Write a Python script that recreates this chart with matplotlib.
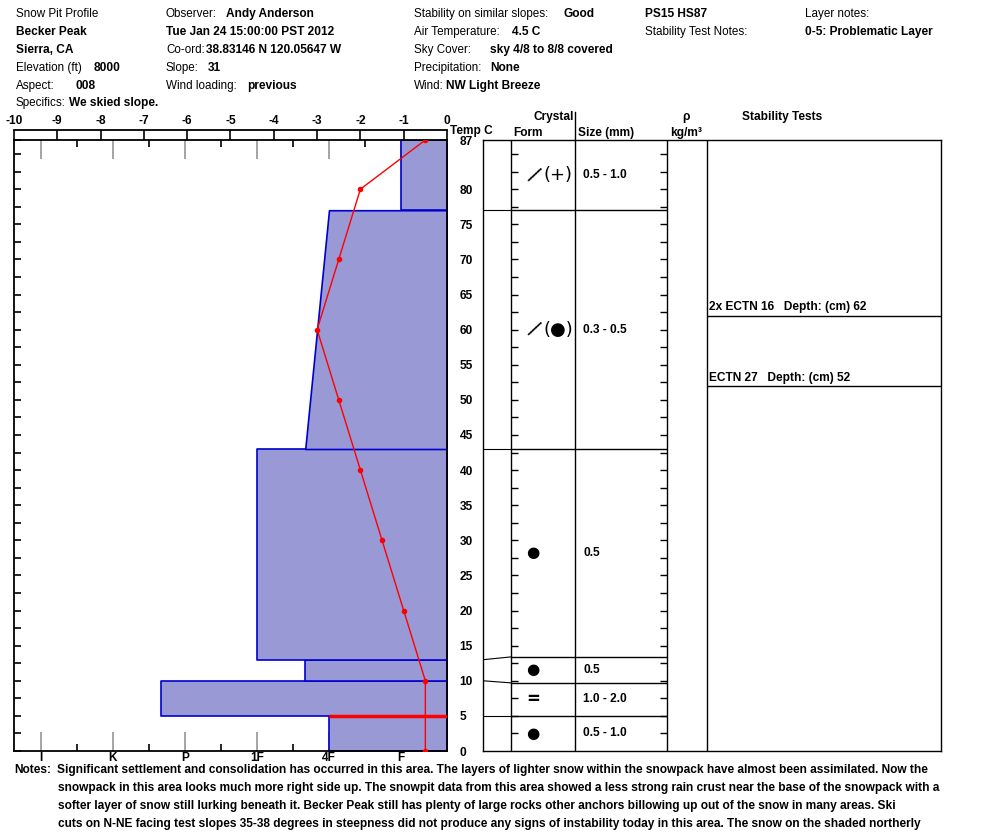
import matplotlib
matplotlib.use("Agg")
import matplotlib.pyplot as plt
import numpy as np

plt.rcParams['font.family'] = ['Liberation Sans', 'DejaVu Sans']

# ---- data ----
layer_bottom = [0, 5, 10, 13, 43, 77]
layer_top = [5, 10, 13, 43, 77, 87]
hard_bottom = [2.0, 4.33, 2.33, 3.0, 2.33, 1.0]   # F=1, 4F=2, 1F=3, P=4, K=5, I=6
hard_top = [2.0, 4.33, 2.33, 3.0, 2.0, 1.0]
hard_labels = ["F", "4F", "1F", "P", "K", "I"]
hard_vals = [1, 2, 3, 4, 5, 6]
problem_layer = 0   # 0-5 cm

temp_depth = [87, 80, 70, 60, 50, 40, 30, 20, 10, 0]
temp_vals = [-0.5, -2.0, -2.5, -3.0, -2.5, -2.0, -1.5, -1.0, -0.5, -0.5]

table_bounds = [0, 5, 9.7, 13.4, 43, 77, 87]
crystal_form = ["●", "=", "●", "●", "(●)", "(+)"]
crystal_slash = [False, False, False, False, True, True]
crystal_size = ["0.5 - 1.0", "1.0 - 2.0", "0.5", "0.5", "0.3 - 0.5", "0.5 - 1.0"]

stab_tests = ["2x ECTN 16   Depth: (cm) 62", "ECTN 27   Depth: (cm) 52"]
stab_depth = [62, 52]

depth_ticks = [0, 5, 10, 15, 20, 25, 30, 35, 40, 45, 50, 55, 60, 65, 70, 75, 80, 87]

notes = [
    "Significant settlement and consolidation has occurred in this area. The layers of lighter snow within the snowpack have almost been assimilated. Now the",
    "snowpack in this area looks much more right side up. The snowpit data from this area showed a less strong rain crust near the base of the snowpack with a",
    "softer layer of snow still lurking beneath it. Becker Peak still has plenty of large rocks other anchors billowing up out of the snow in many areas. Ski",
    "cuts on N-NE facing test slopes 35-38 degrees in steepness did not produce any signs of instability today in this area. The snow on the shaded northerly",
]

header = [
    # x, y, label, bold value, value x
    (16, 14, "Snow Pit Profile", None, 0),
    (16, 32, None, "Becker Peak", 16),
    (16, 50, None, "Sierra, CA", 16),
    (16, 68, "Elevation (ft)", "8000", 94),
    (16, 86, "Aspect:", "008", 76),
    (16, 103, "Specifics:", "We skied slope.", 69),
    (166, 14, "Observer:", "Andy Anderson", 226),
    (166, 32, None, "Tue Jan 24 15:00:00 PST 2012", 166),
    (166, 50, "Co-ord:", "38.83146 N 120.05647 W", 206),
    (166, 68, "Slope:", "31", 208),
    (166, 86, "Wind loading:", "previous", 247),
    (414, 14, "Stability on similar slopes:", "Good", 563),
    (414, 32, "Air Temperature:", "4.5 C", 512),
    (414, 50, "Sky Cover:", "sky 4/8 to 8/8 covered", 490),
    (414, 68, "Precipitation:", "None", 490),
    (414, 86, "Wind:", "NW Light Breeze", 446),
    (645, 14, None, "PS15 HS87", 645),
    (645, 32, "Stability Test Notes:", None, 0),
    (805, 14, "Layer notes:", None, 0),
    (805, 32, None, "0-5: Problematic Layer", 805),
]

W, H = 994, 840
fig = plt.figure(figsize=(W / 100, H / 100), dpi=100)
FS = 8.6
FS_N = 8.4


def add_ax(x0, y0, x1, y1):
    return fig.add_axes([x0 / W, 1 - y1 / H, (x1 - x0) / W, (y1 - y0) / H])


def ftext(x, y, s, **kw):
    kw.setdefault("fontsize", FS)
    fig.text(x / W, 1 - y / H, s, va="center", ha="left", **kw)


# ---- header ----
for x, y, lab, val, vx in header:
    if lab:
        ftext(x, y, lab, fontsize=FS_N)
    if val:
        ftext(vx, y, val, fontweight="bold")

# ---- hardness profile ----
ax = add_ax(14, 140, 447, 751)
x_right = 0.361
ax.set_xlim(6.375, x_right)
ax.set_ylim(0, 87)
for b, t, hb, ht in zip(layer_bottom, layer_top, hard_bottom, hard_top):
    ax.fill_betweenx([b, t], [hb, ht], x_right, facecolor="#9999d6",
                     edgecolor="#0000cc", lw=1.2, zorder=2)
ax.hlines(layer_top[problem_layer], hard_top[problem_layer], x_right,
          color="#ff0000", lw=2.5, zorder=3)

ax.set_xticks(hard_vals)
ax.set_xticklabels(hard_labels, fontweight="bold", fontsize=FS)
ax.set_xticks(np.arange(0.5, 6, 1.0), minor=True)
ax.tick_params(axis="x", which="major", direction="in", top=True, bottom=True,
               length=14, width=1.1, color="#8c8c8c", labelcolor="black", pad=1)
ax.tick_params(axis="x", which="minor", direction="in", top=True, bottom=True,
               length=5, width=1.2, color="black")

ax.set_yticks(depth_ticks)
ax.set_yticklabels([str(d) for d in depth_ticks], fontweight="bold", fontsize=FS)
ax.set_yticks([d for d in np.arange(2.5, 86, 2.5) if d % 5 != 0 or d == 85], minor=True)
ax.tick_params(axis="y", which="both", direction="in", left=True, right=True,
               labelleft=False, labelright=True, length=5, width=1.2, pad=9)
for s in ax.spines.values():
    s.set_linewidth(1.3)

# temperature curve
axT = add_ax(14, 140, 447, 751)
axT.set_xlim(-10, 0)
axT.set_ylim(0, 87)
axT.axis("off")
axT.plot(temp_vals, temp_depth, color="#ff0000", lw=1, marker="o", ms=3, zorder=5)

# temperature axis on top
axTop = add_ax(14, 130, 447, 140)
axTop.set_xlim(-10, 0)
axTop.set_ylim(0, 1)
axTop.patch.set_alpha(0)
for k in ["bottom", "left", "right"]:
    axTop.spines[k].set_visible(False)
axTop.spines["top"].set_linewidth(1.3)
axTop.set_yticks([])
axTop.set_xticks(range(-10, 1))
axTop.set_xticklabels([str(v) for v in range(-10, 1)], fontweight="bold", fontsize=FS)
axTop.tick_params(axis="x", direction="in", top=True, bottom=False, labeltop=True,
                  labelbottom=False, length=7, width=1.2, pad=2)
ftext(450, 131, "Temp C", fontweight="bold")

# ---- crystal / density / stability table ----
axR = add_ax(483, 140, 941, 751)
axR.set_xlim(0, 458)
axR.set_ylim(0, 87)
axR.set_xticks([])
axR.set_yticks([])
for s in axR.spines.values():
    s.set_linewidth(1)
for cx in [28, 92, 184, 224]:
    axR.axvline(cx, color="black", lw=1)
axR.plot([92, 92], [87, 91], color="black", lw=1, clip_on=False)

for lb, tb in zip(layer_bottom[1:], table_bounds[1:-1]):
    axR.plot([0, 28], [lb, tb], color="black", lw=0.8)
    axR.hlines(tb, 28, 184, color="black", lw=1)

tk = np.arange(2.5, 87, 2.5)
axR.hlines(tk, 28, 35, color="black", lw=1)
axR.hlines(tk, 177, 184, color="black", lw=1)

for i in range(len(crystal_form)):
    yc = (table_bounds[i] + table_bounds[i + 1]) / 2
    f = crystal_form[i]
    if crystal_slash[i]:
        axR.text(51, yc, "/", ha="center", va="center", fontsize=15,
                 family="DejaVu Sans", rotation=-30)
        axR.text(75, yc, f, ha="center", va="center", fontsize=13, family="DejaVu Sans")
    else:
        axR.text(50, yc, f, ha="center", va="center", fontsize=11 if f == "●" else 12,
                 family="DejaVu Sans", fontweight="bold")
    axR.text(100, yc, crystal_size[i], ha="left", va="center", fontsize=FS, fontweight="bold")

for s, d in zip(stab_tests, stab_depth):
    axR.hlines(d, 224, 458, color="black", lw=1)
    axR.text(226, d + 0.3, s, ha="left", va="bottom", fontsize=FS, fontweight="bold")

ftext(534, 117, "Crystal", fontweight="bold")
ftext(513, 133, "Form", fontweight="bold")
ftext(578, 133, "Size (mm)", fontweight="bold")
fig.text(686 / W, 1 - 117 / H, "ρ", ha="center", va="center", fontsize=FS, fontweight="bold")
fig.text(686 / W, 1 - 133 / H, "kg/m³", ha="center", va="center", fontsize=FS, fontweight="bold")
ftext(742, 117, "Stability Tests", fontweight="bold")

# ---- notes ----
ftext(14, 770, "Notes:", fontweight="bold")
for i, line in enumerate(notes):
    ftext(57 if i == 0 else 58, 770 + 18 * i, line, fontweight="bold")

fig.savefig("out.png", dpi=100)
